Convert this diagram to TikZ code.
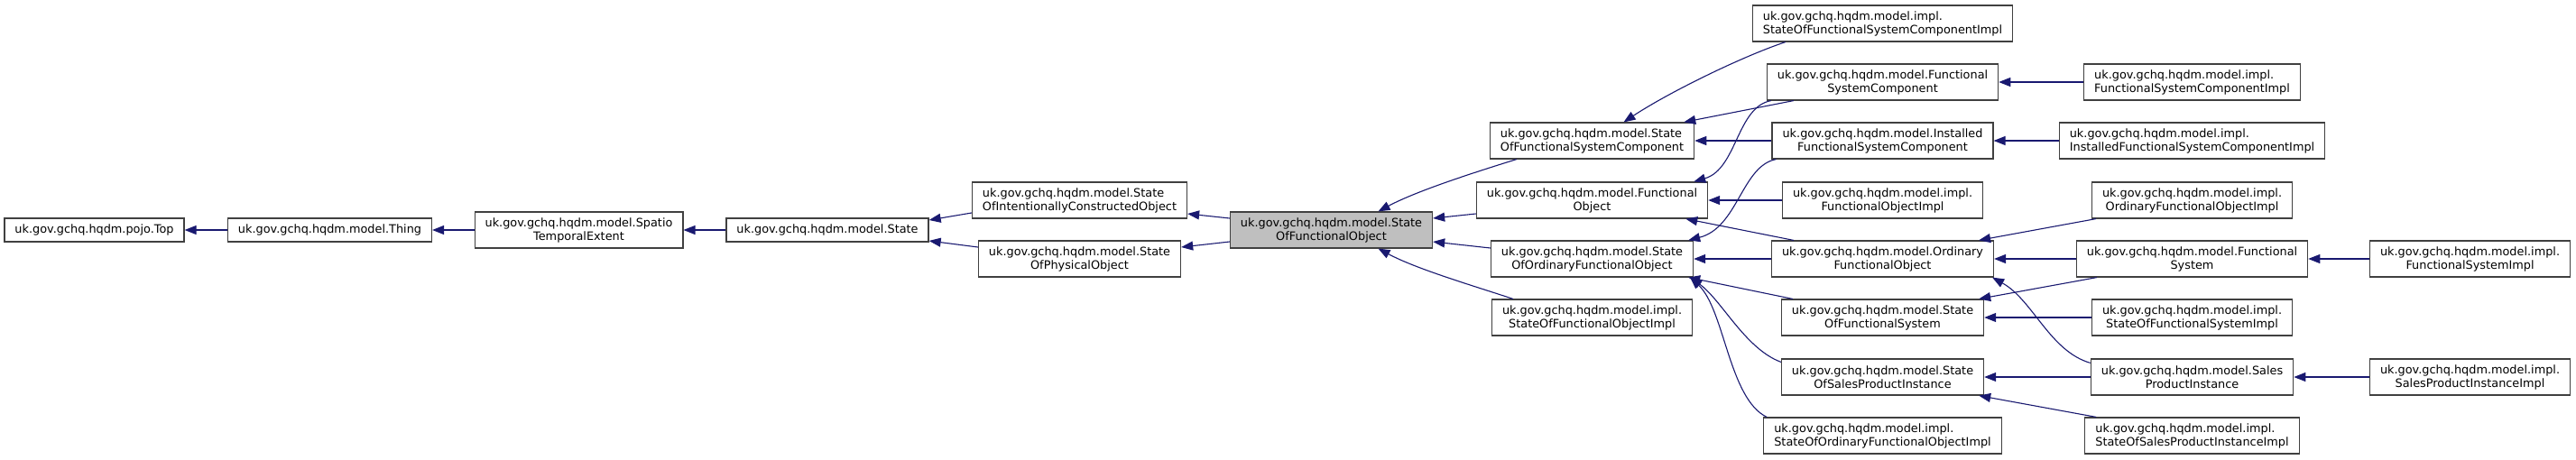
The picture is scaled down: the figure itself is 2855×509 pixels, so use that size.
\documentclass[tikz,border=0pt]{standalone}
\usepackage{fontspec}
\newfontfamily\dejavu{DejaVu Sans}
\usetikzlibrary{arrows.meta}
\definecolor{midnight}{HTML}{191970}
\definecolor{boxline}{HTML}{404040}
\definecolor{curfill}{HTML}{BFBFBF}
\newcommand{\clsfont}{\dejavu\fontsize{12.85pt}{15pt}\selectfont}

\begin{document}
\begin{tikzpicture}[
  x=1pt, y=-1pt,
  cls/.style={draw=boxline, line width=1.2pt, fill=white, font=\clsfont,
    inner xsep=11.5pt, inner ysep=0pt, minimum height=40pt, align=center},
  clsleft/.style={cls, align=left},
  clsone/.style={cls, minimum height=26pt},
  current/.style={cls, fill=curfill},
  arr/.style={-{Triangle[length=13pt,width=10pt]}, draw=midnight,
    line width=1.1pt},
]
\useasboundingbox (0,0) rectangle (2855,509);

% --- root chain ---
\node[clsone] (top) at (104.5,255) {uk.gov.gchq.hqdm.pojo.Top};
\node[clsone] (thing) at (365.5,255) {uk.gov.gchq.hqdm.model.Thing};
\node[cls] (ste) at (641.5,255) {uk.gov.gchq.hqdm.model.Spatio\\TemporalExtent};
\node[clsone] (state) at (917,255) {uk.gov.gchq.hqdm.model.State};

\node[clsleft] (soico) at (1196.5,222) {uk.gov.gchq.hqdm.model.State\\OfIntentionallyConstructedObject};
\node[cls] (sopo) at (1196.5,287) {uk.gov.gchq.hqdm.model.State\\OfPhysicalObject};

\node[current] (sofo) at (1475.5,255) {uk.gov.gchq.hqdm.model.State\\OfFunctionalObject};

% --- direct subclasses ---
\node[clsleft] (sofsc) at (1764.5,156) {uk.gov.gchq.hqdm.model.State\\OfFunctionalSystemComponent};
\node[cls] (fo) at (1764.5,222) {uk.gov.gchq.hqdm.model.Functional\\Object};
\node[cls] (soofo) at (1764.5,287) {uk.gov.gchq.hqdm.model.State\\OfOrdinaryFunctionalObject};
\node[cls] (sofoimpl) at (1764.5,352) {uk.gov.gchq.hqdm.model.impl.\\StateOfFunctionalObjectImpl};

% --- next level ---
\node[clsleft] (sofscimpl) at (2086.5,26) {uk.gov.gchq.hqdm.model.impl.\\StateOfFunctionalSystemComponentImpl};
\node[cls] (fsc) at (2086.5,91) {uk.gov.gchq.hqdm.model.Functional\\SystemComponent};
\node[cls] (ifsc) at (2086.5,156) {uk.gov.gchq.hqdm.model.Installed\\FunctionalSystemComponent};
\node[cls] (foimpl) at (2086.5,222) {uk.gov.gchq.hqdm.model.impl.\\FunctionalObjectImpl};
\node[cls] (ofo) at (2086.5,287) {uk.gov.gchq.hqdm.model.Ordinary\\FunctionalObject};
\node[cls] (sofs) at (2086.5,352) {uk.gov.gchq.hqdm.model.State\\OfFunctionalSystem};
\node[cls] (sospi) at (2086.5,418) {uk.gov.gchq.hqdm.model.State\\OfSalesProductInstance};
\node[clsleft] (soofoimpl) at (2086.5,483) {uk.gov.gchq.hqdm.model.impl.\\StateOfOrdinaryFunctionalObjectImpl};

\node[clsleft] (fscimpl) at (2429.5,91) {uk.gov.gchq.hqdm.model.impl.\\FunctionalSystemComponentImpl};
\node[clsleft] (ifscimpl) at (2429.5,156) {uk.gov.gchq.hqdm.model.impl.\\InstalledFunctionalSystemComponentImpl};
\node[cls] (ofoimpl) at (2429.5,222) {uk.gov.gchq.hqdm.model.impl.\\OrdinaryFunctionalObjectImpl};
\node[cls] (fs) at (2429.5,287) {uk.gov.gchq.hqdm.model.Functional\\System};
\node[cls] (sofsimpl) at (2429.5,352) {uk.gov.gchq.hqdm.model.impl.\\StateOfFunctionalSystemImpl};
\node[cls] (spi) at (2429.5,418) {uk.gov.gchq.hqdm.model.Sales\\ProductInstance};
\node[clsleft] (sospiimpl) at (2429.5,483) {uk.gov.gchq.hqdm.model.impl.\\StateOfSalesProductInstanceImpl};

\node[cls] (fsimpl) at (2737.5,287) {uk.gov.gchq.hqdm.model.impl.\\FunctionalSystemImpl};
\node[cls] (spiimpl) at (2737.5,418) {uk.gov.gchq.hqdm.model.impl.\\SalesProductInstanceImpl};

% --- inheritance arrows (child to parent) ---
\draw[arr] (thing) -- (top);
\draw[arr] (ste) -- (thing);
\draw[arr] (state) -- (ste);
\draw[arr] ([yshift=-14pt]soico.west) -- ([yshift=11pt]state.east);
\draw[arr] ([yshift=13pt]sopo.west) -- ([yshift=-12pt]state.east);
\draw[arr] ([yshift=13pt]sofo.west) -- ([yshift=-15pt]soico.east);
\draw[arr] ([yshift=-13pt]sofo.west) -- ([yshift=13pt]sopo.east);

\draw[arr] ([xshift=30pt]sofsc.south west) .. controls +(-45,14) and +(43,-23) .. ([xshift=52pt]sofo.north);
\draw[arr] ([yshift=-15pt]fo.west) -- ([yshift=13pt]sofo.east);
\draw[arr] ([yshift=12pt]soofo.west) -- ([yshift=-13pt]sofo.east);
\draw[arr] ([xshift=24pt]sofoimpl.north west) .. controls +(-42,-14) and +(43,23) .. ([xshift=52pt]sofo.south);

\draw[arr] ([xshift=37pt]sofscimpl.south west) .. controls +(-48,16) and +(50,-33) .. ([xshift=35pt]sofsc.north);
\draw[arr] ([xshift=30pt]fsc.south west) -- ([xshift=-12pt]sofsc.north east);
\draw[arr] ([xshift=5pt]fsc.south west) .. controls +(-38,7) and +(48,-14) .. ([xshift=-16pt]fo.north east);
\draw[arr] (ifsc) -- (sofsc);
\draw[arr] ([xshift=5pt]ifsc.south west) .. controls +(-38,7) and +(55,-14) .. ([xshift=-6pt]soofo.north east);
\draw[arr] (foimpl) -- (fo);
\draw[arr] ([xshift=25pt]ofo.north west) -- ([xshift=-25pt]fo.south east);
\draw[arr] (ofo) -- (soofo);
\draw[arr] ([xshift=13pt]sofs.north west) -- ([xshift=-6pt]soofo.south east);
\draw[arr] ([yshift=-4pt]sospi.north west) .. controls +(-40,-15) and +(35,25) .. ([xshift=-4pt]soofo.south east);
\draw[arr] ([xshift=4pt]soofoimpl.north west) .. controls +(-42,-20) and +(38,35) .. ([xshift=-4pt]soofo.south east);

\draw[arr] (fscimpl) -- (fsc);
\draw[arr] (ifscimpl) -- (ifsc);
\draw[arr] ([xshift=5pt]ofoimpl.south west) -- ([xshift=-17pt]ofo.north east);
\draw[arr] (fs) -- (ofo);
\draw[arr] ([xshift=23pt]fs.south west) -- ([xshift=-6pt]sofs.north east);
\draw[arr] (sofsimpl) -- (sofs);
\draw[arr] (spi) -- (sospi);
\draw[arr] ([yshift=-5pt]spi.north west) .. controls +(-45,-13) and +(45,25) .. ([xshift=-2pt]ofo.south east);
\draw[arr] ([xshift=13pt]sospiimpl.north west) -- ([xshift=-6pt]sospi.south east);

\draw[arr] (fsimpl) -- (fs);
\draw[arr] (spiimpl) -- (spi);

\end{tikzpicture}
\end{document}
